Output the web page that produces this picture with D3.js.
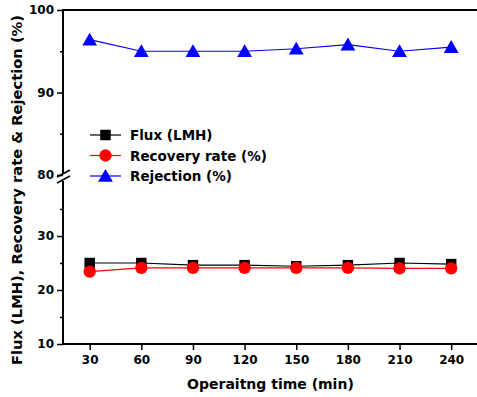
<!DOCTYPE html>
<html>
<head>
<meta charset="utf-8">
<script src="https://cdn.jsdelivr.net/npm/d3@7"></script>
<style>
  body { margin: 0; background: #fff; }
  text { font-family: "DejaVu Sans", Verdana, sans-serif; font-weight: bold; }
</style>
</head>
<body>
<div id="chart"></div>
<script>
const times = [30, 60, 90, 120, 150, 180, 210, 240];
const flux = [25.0, 25.0, 24.6, 24.6, 24.4, 24.6, 25.0, 24.8];
const recovery = [23.4, 24.1, 24.1, 24.1, 24.1, 24.1, 24.0, 24.0];
const rejection = [96.4, 95.0, 95.0, 95.0, 95.3, 95.8, 95.0, 95.5];
const upperTicks = [80, 90, 100];
const lowerTicks = [10, 20, 30];

const width = 477, height = 397;
const left = 63, right = 477;

const svg = d3.select("#chart").append("svg")
  .attr("width", width).attr("height", height);

const x = d3.scaleLinear().domain([14.5, 255]).range([left, right]);
const yUp = d3.scaleLinear().domain([80, 100]).range([175, 10]);
const yLo = d3.scaleLinear().domain([10, 40]).range([344, 182]);

// axes
const axisG = svg.append("g").attr("stroke", "#000").attr("fill", "none");
axisG.append("line").attr("x1", left).attr("x2", right).attr("y1", 10).attr("y2", 10).attr("stroke-width", 2);
axisG.append("line").attr("x1", left).attr("x2", right).attr("y1", 344).attr("y2", 344).attr("stroke-width", 2);
axisG.append("line").attr("x1", left).attr("x2", left).attr("y1", 9).attr("y2", 174).attr("stroke-width", 2);
axisG.append("line").attr("x1", left).attr("x2", left).attr("y1", 181).attr("y2", 345).attr("stroke-width", 2);
// break marks
[[-6, 177, 7, 170], [-6, 183, 7, 176]].forEach(d => {
  axisG.append("line").attr("x1", left + d[0]).attr("y1", d[1]).attr("x2", left + d[2]).attr("y2", d[3])
    .attr("stroke-width", 1.5);
});

const yUpAxis = d3.axisLeft(yUp).tickValues(upperTicks).tickSize(6).tickSizeOuter(0);
const yUpMinor = d3.axisLeft(yUp).tickValues([85, 95]).tickSize(3).tickFormat("");
const yLoAxis = d3.axisLeft(yLo).tickValues(lowerTicks).tickSize(6).tickSizeOuter(0);
const yLoMinor = d3.axisLeft(yLo).tickValues([15, 25, 35]).tickSize(3).tickFormat("");
const xAxis = d3.axisBottom(x).tickValues(times).tickSize(6).tickSizeOuter(0);

function styleAxis(g) {
  g.select(".domain").remove();
  g.selectAll(".tick line").attr("stroke", "#000").attr("stroke-width", 1.5);
  g.selectAll(".tick text").attr("fill", "#000").attr("font-size", 12)
    .attr("font-family", "DejaVu Sans, Verdana, sans-serif").attr("font-weight", "bold");
}
svg.append("g").attr("transform", `translate(${left},0)`).call(yUpAxis).call(styleAxis)
  .selectAll(".tick text").attr("x", -9);
svg.append("g").attr("transform", `translate(${left},0)`).call(yUpMinor).call(styleAxis);
svg.append("g").attr("transform", `translate(${left},0)`).call(yLoAxis).call(styleAxis)
  .selectAll(".tick text").attr("x", -9);
svg.append("g").attr("transform", `translate(${left},0)`).call(yLoMinor).call(styleAxis);
svg.append("g").attr("transform", `translate(0,344)`).call(xAxis).call(styleAxis)
  .selectAll(".tick text").attr("y", 11);

// titles
svg.append("text").attr("x", x(135)).attr("y", 389).attr("text-anchor", "middle")
  .attr("font-size", 14).text("Operaitng time (min)");
svg.append("text").attr("transform", `translate(22,190) rotate(-90)`).attr("text-anchor", "middle")
  .attr("font-size", 14.7).text("Flux (LMH), Recovery rate & Rejection (%)");

// series
const series = [
  { name: "Rejection (%)", values: rejection, y: yUp, color: "#0000ff", shape: d3.symbolTriangle, size: 95 },
  { name: "Flux (LMH)", values: flux, y: yLo, color: "#000000", shape: d3.symbolSquare, size: 110 },
  { name: "Recovery rate (%)", values: recovery, y: yLo, color: "#ff0000", shape: d3.symbolCircle, size: 120 }
];

series.forEach(s => {
  const line = d3.line().x((d, i) => x(times[i])).y(d => s.y(d));
  svg.append("path").datum(s.values).attr("d", line)
    .attr("fill", "none").attr("stroke", s.color).attr("stroke-width", 1.2);
  svg.append("g").selectAll("path").data(s.values).join("path")
    .attr("transform", (d, i) => `translate(${x(times[i])},${s.y(d) + (s.shape === d3.symbolTriangle ? 1.5 : 0)})`)
    .attr("d", d3.symbol().type(s.shape).size(s.size))
    .attr("fill", s.color);
});

// legend
const legendItems = [series[1], series[2], series[0]];
const lg = svg.append("g").attr("transform", "translate(90,135)");
legendItems.forEach((s, i) => {
  const g = lg.append("g").attr("transform", `translate(0,${i * 20.5})`);
  g.append("line").attr("x1", 0).attr("x2", 31).attr("y1", 0).attr("y2", 0)
    .attr("stroke", s.color).attr("stroke-width", 1.2);
  g.append("path").attr("transform", `translate(15.5,${s.shape === d3.symbolTriangle ? 1.5 : 0})`)
    .attr("d", d3.symbol().type(s.shape).size(s.size)).attr("fill", s.color);
  g.append("text").attr("x", 40).attr("y", 5).attr("font-size", 13.5).attr("fill", "#000").text(s.name);
});
</script>
</body>
</html>
